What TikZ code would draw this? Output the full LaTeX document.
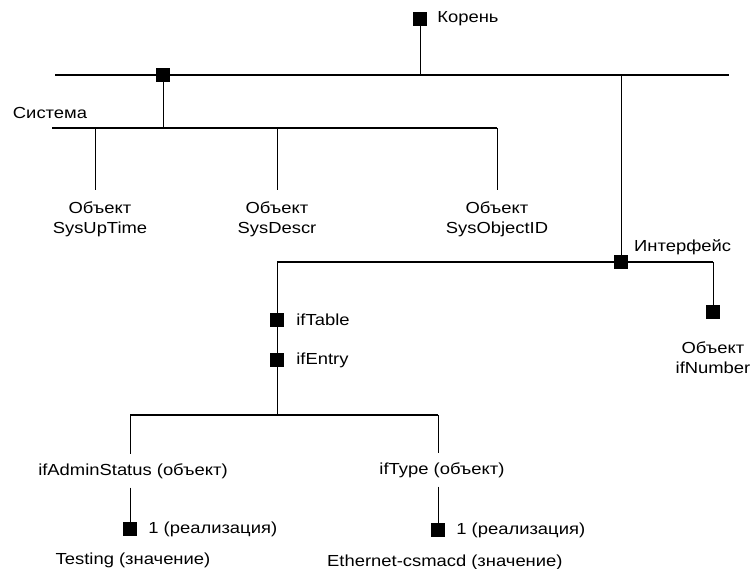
\documentclass[tikz,border=0pt]{standalone}
\usepackage{fontspec}
\setmainfont{Liberation Sans}[FakeStretch=1.15]
\usetikzlibrary{positioning}

\begin{document}
\begin{tikzpicture}[x=1pt, y=-1pt,
    knot/.style={fill=black, inner sep=0pt, minimum size=14pt},
    lbl/.style={inner sep=1pt, font=\fontsize{16}{20}\selectfont},
    obj/.style={lbl, align=center, inner ysep=12pt},
    item/.style={lbl, inner ysep=9pt},
    bus/.style={line width=2.4pt},
    subbus/.style={line width=1.8pt},
    stem/.style={line width=1pt}
  ]
  \useasboundingbox (0,0) rectangle (752,569);

  % root and main bus
  \node[knot] (root) at (420,19) {};
  \node[lbl, right=9pt of root] (rootlbl) {Корень};
  \coordinate (tl) at (55,75);
  \coordinate (tr) at (729,75);
  \coordinate (rootj) at (420,75);
  \coordinate (ifj) at (621,75);
  \node[knot] (sys) at (163,75) {};
  \draw[bus] (tl) -- (tr);
  \draw[stem] (root) -- (rootj);

  % system group
  \coordinate (sl) at (52,128);
  \coordinate (sr) at (497,128);
  \coordinate (sysj) at (163,128);
  \coordinate (b1) at (95,128);
  \coordinate (b2) at (277,128);
  \node[lbl] (syslbl) at (50,113) {Система};
  \node[obj, anchor=north] (uptime) at (100,190) {Объект\\SysUpTime};
  \node[obj, anchor=north] (descr) at (277,190) {Объект\\SysDescr};
  \node[obj, anchor=north] (objid) at (497,190) {Объект\\SysObjectID};
  \draw[subbus] (sl) -- (sr);
  \draw[stem] (sys) -- (sysj);
  \draw[stem] (b1) -- (b1 |- uptime.north);
  \draw[stem] (b2) -- (descr.north);
  \draw[stem] (sr) -- (objid.north);

  % interface group
  \node[knot] (iface) at (621,262) {};
  \node[lbl, anchor=west] (ifacelbl) at (633,247) {Интерфейс};
  \coordinate (il) at (277,262);
  \coordinate (ir) at (713,262);
  \node[knot] (ifnum) at (713,312) {};
  \node[obj, below=10pt of ifnum] (ifnumlbl) {Объект\\ifNumber};
  \draw[subbus] (il) -- (ir);
  \draw[stem] (ifj) -- (iface);
  \draw[stem] (ir) -- (ifnum);

  \node[knot] (iftable) at (277,320) {};
  \node[knot] (ifentry) at (277,360) {};
  \node[lbl, right=11pt of iftable] (iftablelbl) {ifTable};
  \node[lbl, right=11pt of ifentry] (ifentrylbl) {ifEntry};
  \coordinate (el) at (130,415);
  \coordinate (er) at (438,415);
  \coordinate (ej) at (277,415);
  \draw[stem] (il) -- (iftable) -- (ifentry) -- (ej);
  \draw[subbus] (el) -- (er);

  % table entry objects
  \node[item] (admin) at (133,471) {ifAdminStatus (объект)};
  \node[item] (type) at (442,470) {ifType (объект)};
  \node[knot] (adminval) at (130,529) {};
  \node[knot] (typeval) at (438,530) {};
  \node[lbl, right=10pt of adminval] (adminimpl) {1 (реализация)};
  \node[lbl, right=10pt of typeval] (typeimpl) {1 (реализация)};
  \node[lbl] (admintxt) at (133,560) {Testing (значение)};
  \node[lbl, anchor=west] (typetxt) at (326,562) {Ethernet-csmacd (значение)};
  \draw[stem] (el) -- (el |- admin.north);
  \draw[stem] (er) -- (er |- type.north);
  \draw[stem] (admin.south -| adminval) -- (adminval);
  \draw[stem] (type.south -| typeval) -- (typeval);
\end{tikzpicture}
\end{document}
